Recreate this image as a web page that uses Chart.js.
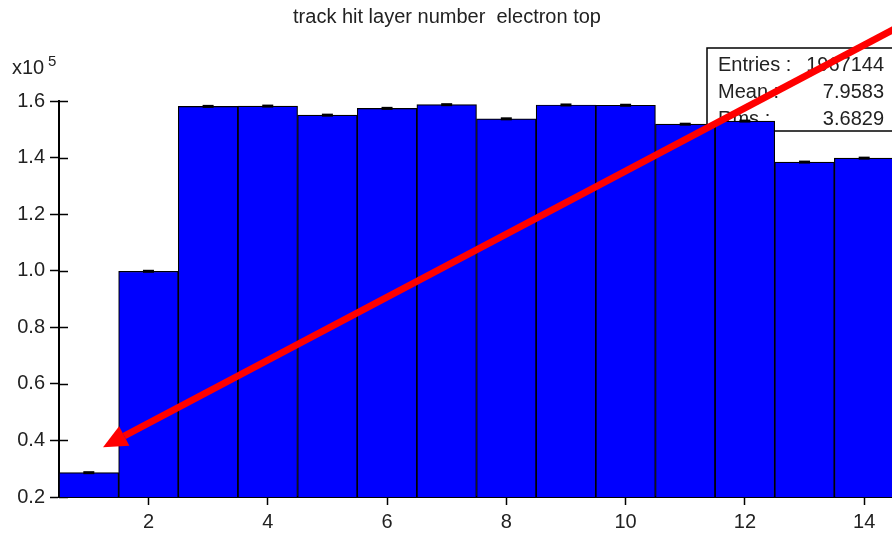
<!DOCTYPE html>
<html>
<head>
<meta charset="utf-8">
<script src="https://cdn.jsdelivr.net/npm/chart.js@4.4.1/dist/chart.umd.min.js"></script>
<style>
  html, body { margin: 0; padding: 0; overflow: hidden; background: #fff; }
  #wrap { width: 900px; height: 535px; position: relative; }
</style>
</head>
<body>
<div id="wrap"><canvas id="myChart"></canvas></div>
<script>
let ctx = document.getElementById("myChart").getContext("2d");

// histogram bins (layer number) and counts
let layers = ["1", "2", "3", "4", "5", "6", "7", "8", "9", "10", "11", "12", "13", "14"];
let counts = [28600, 99800, 158100, 158200, 155000, 157400, 158700, 153700, 158600, 158500, 151800, 152900, 138400, 139800];

let yMin = 20000;
let yMax = 160000;
let yStep = 20000;

let statsLabels = ["Entries :", "Mean :", "Rms :"];
let statsValues = ["1967144", "7.9583", "3.6829"];

// arrow annotation in data units (category index, counts)
let arrowFrom = [13.6, 186500];
let arrowTo = [0.238, 37600];

let fontFamily = "'Liberation Sans', Arial, sans-serif";
let textColor = "#222";
let font = { family: fontFamily, size: 20, weight: "normal" };

let extras = {
  id: "extras",
  beforeDatasetsDraw: (chart) => {
    let c = chart.ctx;
    let area = chart.chartArea;
    let y = chart.scales.y;
    c.save();
    // inner tick marks on the y axis
    c.strokeStyle = "#000";
    c.lineWidth = 1.5;
    y.ticks.forEach((t) => {
      let py = Math.round(y.getPixelForValue(t.value)) + 0.5;
      c.beginPath();
      c.moveTo(area.left, py);
      c.lineTo(area.left + 9, py);
      c.stroke();
    });
    // stats box
    c.fillStyle = "#fff";
    c.fillRect(707, 48, 200, 83);
    c.lineWidth = 1.5;
    c.strokeRect(707, 48, 200, 83);
    c.font = "20px " + fontFamily;
    c.fillStyle = textColor;
    c.textBaseline = "middle";
    statsLabels.forEach((lab, i) => {
      let ly = 65 + i * 27;
      c.textAlign = "left";
      c.fillText(lab, 718, ly);
      c.textAlign = "right";
      c.fillText(statsValues[i], 884, ly);
    });
    c.restore();
  },
  afterDatasetsDraw: (chart) => {
    let c = chart.ctx;
    let y = chart.scales.y;
    let meta = chart.getDatasetMeta(0);
    c.save();
    c.fillStyle = "#000";
    meta.data.forEach((bar, i) => {
      let v = counts[i];
      let err = Math.sqrt(v);
      let top = y.getPixelForValue(v + err);
      let bot = y.getPixelForValue(v - err);
      let h = Math.max(3, bot - top);
      let mid = (top + bot) / 2;
      c.fillRect(bar.x - 5.5, mid - h / 2, 11, h);
    });
    c.restore();
  },
  afterDraw: (chart) => {
    let c = chart.ctx;
    let x = chart.scales.x;
    let y = chart.scales.y;
    c.save();
    // exponent label
    c.fillStyle = textColor;
    c.textAlign = "left";
    c.textBaseline = "alphabetic";
    c.font = "20px " + fontFamily;
    c.fillText("x10", 12, 74);
    c.font = "15px " + fontFamily;
    c.fillText("5", 48, 66);
    // red arrow
    let x0 = x.getPixelForValue(arrowFrom[0]);
    let y0 = y.getPixelForValue(arrowFrom[1]);
    let x1 = x.getPixelForValue(arrowTo[0]);
    let y1 = y.getPixelForValue(arrowTo[1]);
    let ang = Math.atan2(y0 - y1, x0 - x1);
    let headLen = 24;
    let headW = 11;
    let bx = x1 + headLen * Math.cos(ang);
    let by = y1 + headLen * Math.sin(ang);
    c.strokeStyle = "#ff0000";
    c.fillStyle = "#ff0000";
    c.lineWidth = 7;
    c.beginPath();
    c.moveTo(x0, y0);
    c.lineTo(bx, by);
    c.stroke();
    c.beginPath();
    c.moveTo(x1, y1);
    c.lineTo(bx + headW * Math.sin(ang), by - headW * Math.cos(ang));
    c.lineTo(bx - headW * Math.sin(ang), by + headW * Math.cos(ang));
    c.closePath();
    c.fill();
    c.restore();
  },
};

let myChart = new Chart(ctx, {
  type: "bar",
  data: {
    labels: layers,
    datasets: [
      {
        data: counts,
        backgroundColor: "#0000ff",
        borderColor: "#000",
        borderWidth: 1.2,
        barPercentage: 1,
        categoryPercentage: 1,
      },
    ],
  },
  options: {
    responsive: true,
    maintainAspectRatio: false,
    animation: false,
    layout: { padding: { left: 0, right: 6, top: 0, bottom: 0 } },
    plugins: {
      legend: { display: false },
      tooltip: { enabled: false },
      title: {
        display: true,
        text: "track hit layer number  electron top",
        color: textColor,
        font: font,
        padding: { top: 5, bottom: 72 },
      },
    },
    scales: {
      x: {
        type: "category",
        offset: true,
        afterBuildTicks: (axis) => {
          axis.ticks = axis.ticks.filter((t) => t.value % 2 === 1);
        },
        afterFit: (axis) => {
          axis.height = 38;
        },
        grid: {
          display: true,
          drawOnChartArea: false,
          drawTicks: true,
          tickLength: 8,
          tickWidth: 1.5,
          tickColor: "#000",
          offset: false,
        },
        border: { display: true, color: "#000", width: 2 },
        ticks: {
          autoSkip: false,
          maxRotation: 0,
          color: textColor,
          font: font,
          padding: 5,
        },
      },
      y: {
        min: yMin,
        max: yMax,
        afterFit: (axis) => {
          axis.width = 59;
        },
        grid: {
          display: true,
          drawOnChartArea: false,
          drawTicks: true,
          tickLength: 9,
          tickWidth: 1.5,
          tickColor: "#000",
        },
        border: { display: true, color: "#000", width: 2 },
        ticks: {
          stepSize: yStep,
          color: textColor,
          font: font,
          padding: 5,
          callback: (value) => (value / 100000).toFixed(1),
        },
      },
    },
  },
  plugins: [extras],
});
</script>
</body>
</html>
